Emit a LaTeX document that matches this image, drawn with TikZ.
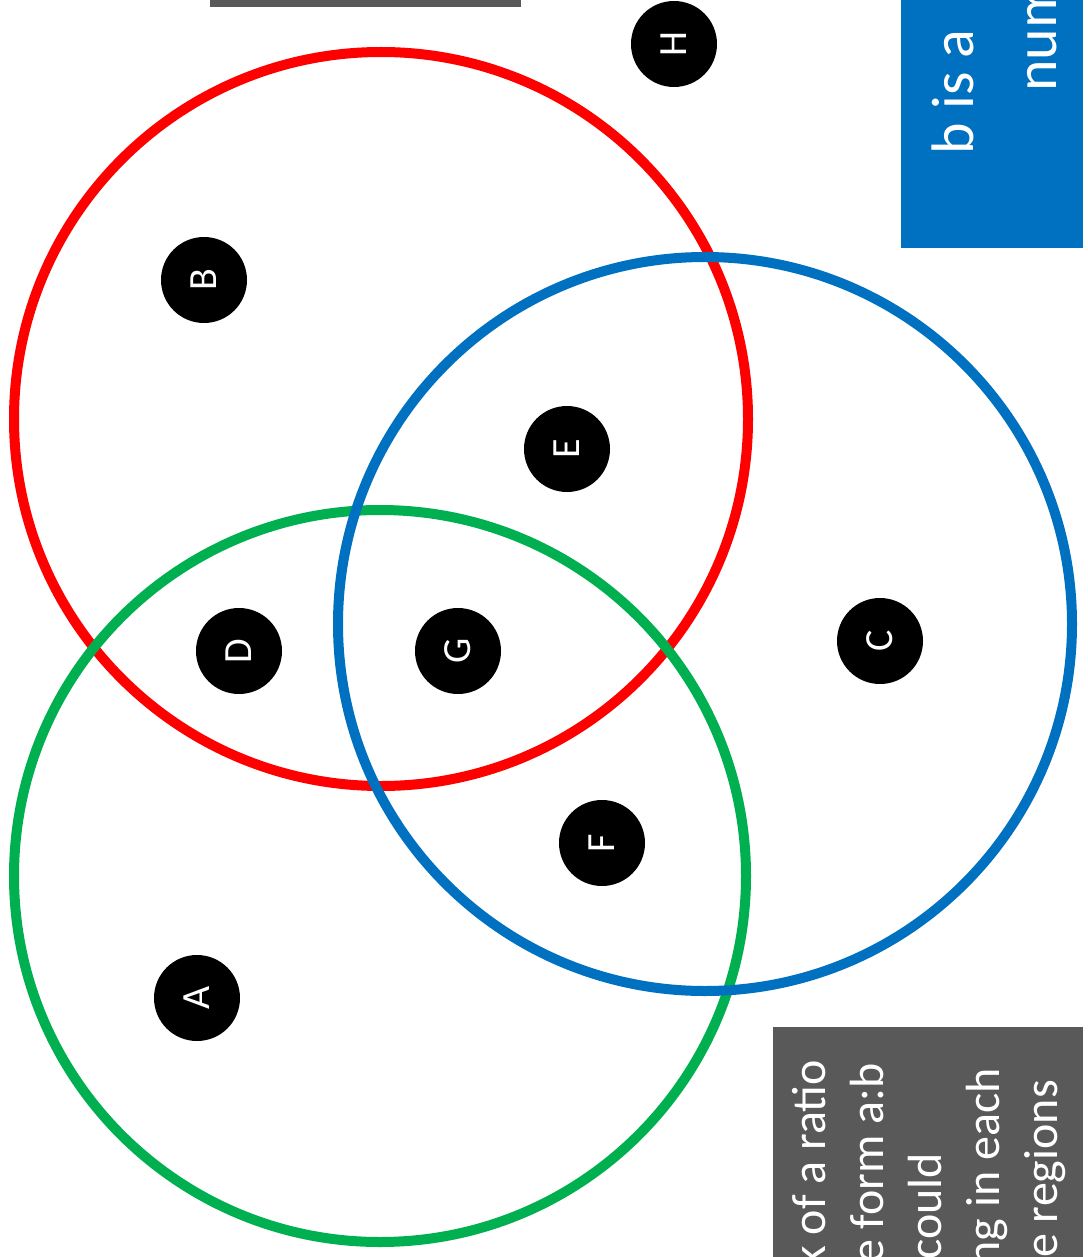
\documentclass[tikz,border=0pt]{standalone}
\usepackage{fontspec}
\setmainfont{Carlito}
\definecolor{vred}{HTML}{FF0000}
\definecolor{vgreen}{HTML}{00B050}
\definecolor{vblue}{HTML}{0070C0}
\definecolor{boxgray}{HTML}{595959}
\tikzset{
  ring/.style={line width=10pt},
  dot/.style={circle, fill=black, minimum size=86pt, inner sep=0pt, text=white, font=\fontsize{40}{40}\selectfont, rotate=90},
  bluetext/.style={text=white, inner sep=0pt, rotate=90, font=\fontsize{60}{72}\selectfont},
  graytext/.style={text=white, inner sep=0pt, rotate=90, anchor=base east, font=\fontsize{48}{58}\selectfont}
}
\begin{document}
\begin{tikzpicture}[x=1pt,y=-1pt]
\useasboundingbox (0,0) rectangle (1087,1257);
\clip (0,0) rectangle (1087,1257);
% boxes
\fill[boxgray] (210,-40) rectangle (521,7);
\fill[vblue] (901,-40) rectangle (1083,248);
\fill[boxgray] (773,1027) rectangle (1083,1300);
% circles
\draw[ring, vred] (381,419) circle[radius=367pt];
\draw[ring, vgreen] (380,876) circle[radius=366pt];
\draw[ring, vblue] (705,624) circle[radius=367pt];
% dots
\node[dot] (H) at (674,44) {H};
\node[dot] (B) at (204,280) {B};
\node[dot] (E) at (567,449) {E};
\node[dot] (D) at (239,651) {D};
\node[dot] (G) at (458,651) {G};
\node[dot] (C) at (880,641) {C};
\node[dot] (F) at (602,843) {F};
\node[dot] (A) at (197,998) {A};
% blue box text
\node[bluetext, anchor=base west] (b1) at (973,155) {b is a};
\node[bluetext, anchor=base west] (b2) at (1056,92) {num};
% gray box text
\node[graytext] (g1) at (825,1060) {k of a ratio};
\node[graytext] (g2) at (883,1063) {e form a:b};
\node[graytext] (g3) at (941,1153) {could};
\node[graytext] (g4) at (999,1068) {ng in each};
\node[graytext] (g5) at (1057,1080) {e regions};
\end{tikzpicture}
\end{document}
